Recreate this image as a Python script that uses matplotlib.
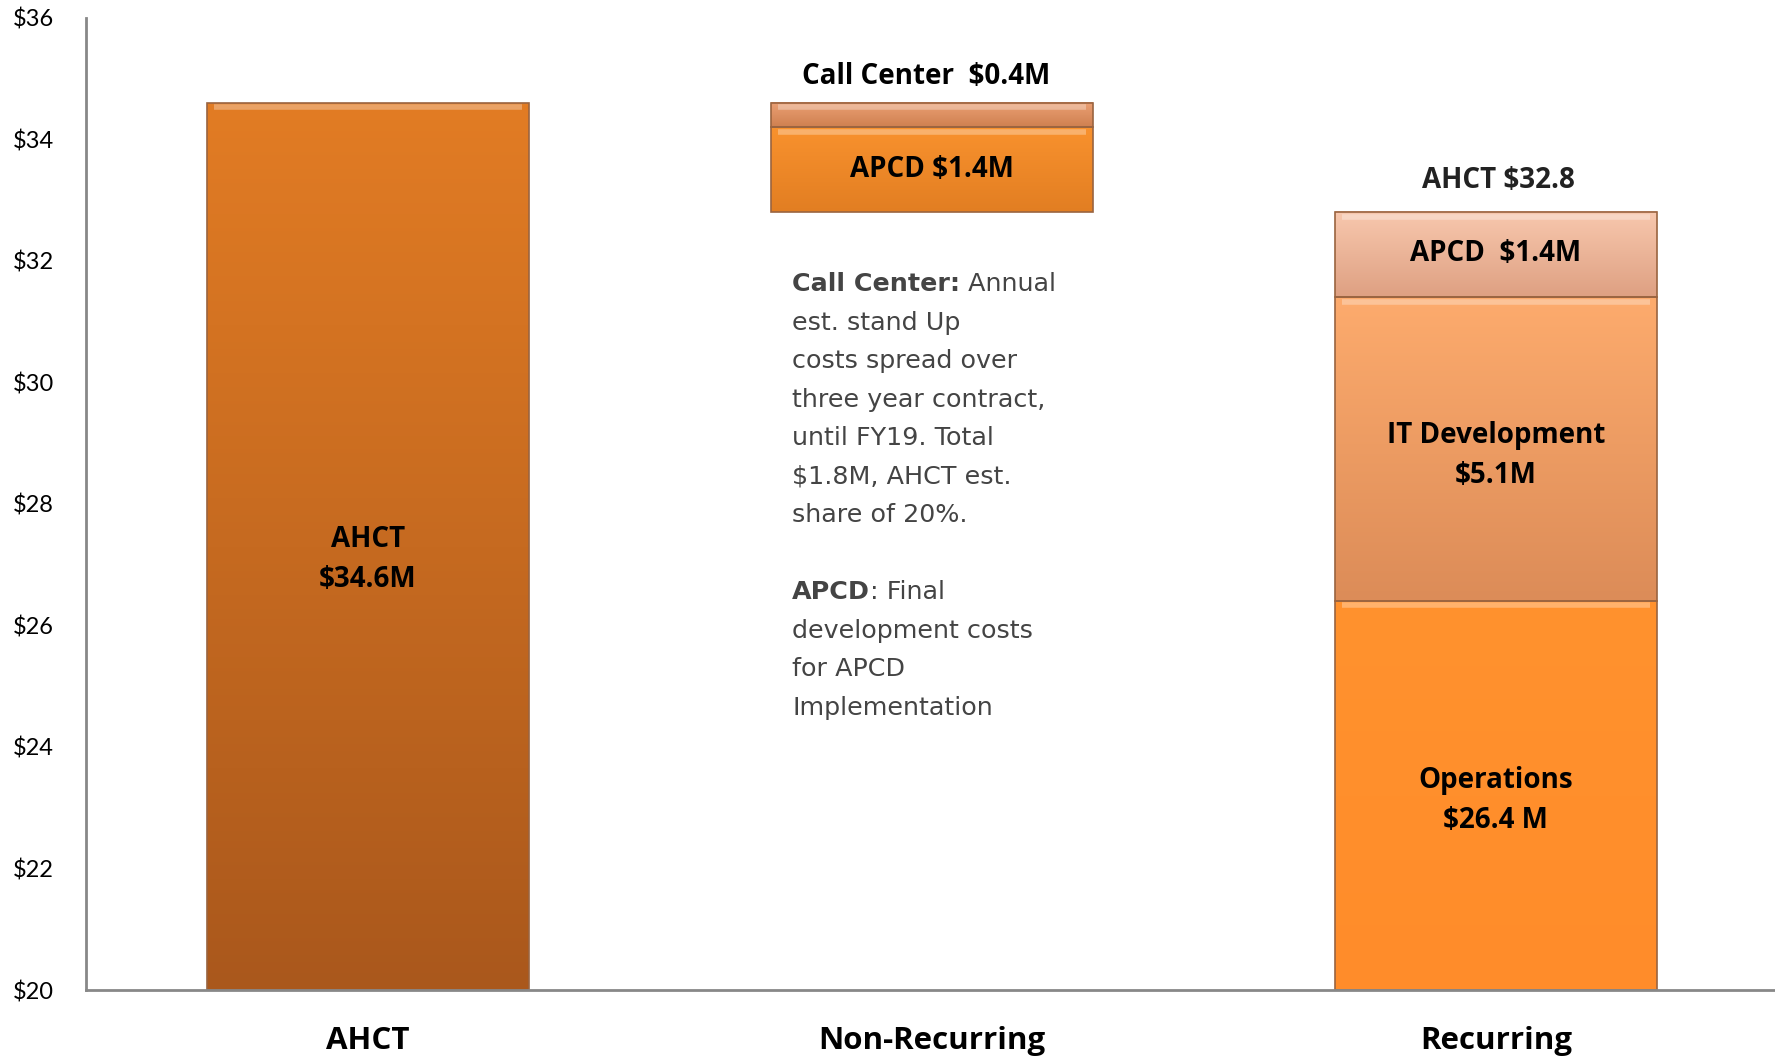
import matplotlib
matplotlib.use("Agg")
import matplotlib.pyplot as plt
import numpy as np
from matplotlib.colors import LinearSegmentedColormap
from matplotlib.patches import Rectangle

categories = ["AHCT", "Non-Recurring", "Recurring"]

ahct_total = 34.6
recurring_ops = 26.4
recurring_it = 5.0
recurring_apcd = 1.4
nonrec_apcd = 1.4
nonrec_call = 0.4
recurring_total = recurring_ops + recurring_it + recurring_apcd

yticks = [20, 22, 24, 26, 28, 30, 32, 34, 36]
ytick_labels = [f"${v}" for v in yticks]

note_lines = [
    ("Call Center:", " Annual"),
    ("", "est. stand Up"),
    ("", "costs spread over"),
    ("", "three year contract,"),
    ("", "until FY19. Total"),
    ("", "$1.8M, AHCT est."),
    ("", "share of 20%."),
    ("", ""),
    ("APCD", ": Final"),
    ("", "development costs"),
    ("", "for APCD"),
    ("", "Implementation"),
]

bar_width = 0.57
y_low, y_high = 20, 36
label_font = "Open Sans"


def gradient_bar(ax, x, bottom, height, top_color, bottom_color):
    left = x - bar_width / 2
    top = bottom + height
    bottom = max(bottom, y_low)  # only the visible part carries the gradient
    cmap = LinearSegmentedColormap.from_list("g", [bottom_color, top_color])
    grad = np.linspace(0, 1, 256).reshape(-1, 1)
    rect = Rectangle((left, bottom), bar_width, top - bottom, facecolor="none",
                     edgecolor="#9a6440", linewidth=1.2, zorder=3)
    ax.add_patch(rect)
    ax.imshow(grad, cmap=cmap, origin="lower", aspect="auto",
              extent=(left, left + bar_width, bottom, top), zorder=2)
    # bevel highlight along the top edge
    ax.plot([left + 0.012, left + bar_width - 0.012], [top - 0.07] * 2,
            color="white", alpha=0.3, linewidth=4, zorder=3, solid_capstyle="butt")


fig = plt.figure(figsize=(17.75, 10.56), dpi=100)
ax = fig.add_axes([0.0485, 0.0625, 0.9515, 0.9205])

# AHCT
gradient_bar(ax, 0, 0, ahct_total, "#e27c24", "#aa581c")
# Non-recurring, floating on top of the recurring total
gradient_bar(ax, 1, recurring_total, nonrec_apcd, "#f9922e", "#e27e22")
gradient_bar(ax, 1, recurring_total + nonrec_apcd, nonrec_call, "#eba074", "#cf8050")
# Recurring
gradient_bar(ax, 2, 0, recurring_ops, "#ff922e", "#ff8c2a")
gradient_bar(ax, 2, recurring_ops, recurring_it, "#fdab6d", "#dc8c58")
gradient_bar(ax, 2, recurring_ops + recurring_it, recurring_apcd, "#f8c8ae", "#dea082")

ax.set_xlim(-0.5, 2.495)
ax.set_ylim(y_low, y_high)

bold = dict(fontfamily=label_font, fontweight="bold", ha="center", va="center",
            fontsize=20, zorder=5)
ax.text(0, 27.08, f"AHCT\n${ahct_total}M", linespacing=1.5, color="black", **bold)
ax.text(1, 33.5, f"APCD ${nonrec_apcd}M", color="black", **bold)
ax.text(0.99, 35.03, f"Call Center  ${nonrec_call}M", color="black", **bold)
ax.text(2.005, 33.33, f"AHCT ${recurring_total:.1f}", color="#222222", **bold)
ax.text(2, 32.13, f"APCD  ${recurring_apcd}M", color="black", **bold)
ax.text(2, 28.79, "IT Development\n$5.1M", linespacing=1.5, color="black", **bold)
ax.text(2, 23.12, f"Operations\n${recurring_ops} M", linespacing=1.5, color="black", **bold)

# side note
y0 = 31.62
step = 0.634
note_kw = dict(fontfamily="DejaVu Sans", fontsize=18.3, color="#444444", va="center", ha="left")
for i, (strong, rest) in enumerate(note_lines):
    y = y0 - i * step
    t = ax.text(0.752, y, strong, fontweight="bold", **note_kw)
    if rest:
        if strong:
            ax.annotate(rest, xy=(1, 0.5), xycoords=t, **note_kw)
        else:
            ax.text(0.752, y, rest, **note_kw)

ax.set_xticks(range(len(categories)))
ax.set_xticklabels(categories, fontfamily=label_font, fontweight="bold", fontsize=22.5)
ax.set_yticks(yticks)
ax.set_yticklabels(ytick_labels, fontfamily="Lato", fontsize=17)
ax.tick_params(axis="y", length=0, pad=23)
ax.tick_params(axis="x", length=0, pad=26)
for side in ["top", "right"]:
    ax.spines[side].set_visible(False)
for side in ["left", "bottom"]:
    ax.spines[side].set_color("#888888")
    ax.spines[side].set_linewidth(2)
    ax.spines[side].set_zorder(4)

fig.savefig("out.png", dpi=100)
